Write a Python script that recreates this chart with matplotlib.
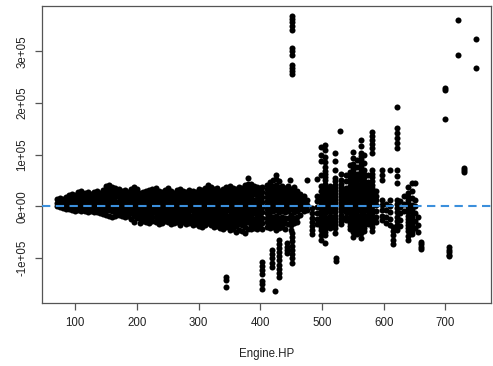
import numpy as np
import matplotlib
matplotlib.use("Agg")
import matplotlib.pyplot as plt

## Residuals vs Engine.HP
## each entry of hp_cols is one vertical column of points, residuals in thousands
hp_cols = [70, 75, 80, 85, 90, 95, 100, 105, 110, 115, 120, 125, 130, 135, 140, 145,
           150, 155, 160, 165, 170, 175, 180, 185, 190, 195, 200, 205, 210, 215, 220,
           225, 230, 235, 240, 245, 250, 255, 260, 265, 270, 275, 280, 285, 290, 295,
           300, 305, 310, 315, 320, 325, 330, 335, 340, 344, 345, 350, 355, 360, 365,
           370, 375, 380, 385, 390, 395, 400, 403, 410, 415, 418, 420, 424, 425, 430,
           435, 440, 443, 445, 448, 450, 452, 455, 460, 465, 470, 475, 483, 491,
           499, 505, 513, 521, 523, 529, 531, 539, 545, 550, 556, 563, 568, 574, 581,
           588, 597, 604, 610, 615, 621, 626, 632, 639, 645, 650, 655, 661,
           700, 706, 720, 730, 750]

resid_cols = [
    [14, 6, 0],
    [16, 9, 2, -2],
    [15, 8, 1, -4],
    [18, 11, 4, -5],
    [22, 14, 6, -2, -6],
    [24, 16, 8, 0, -8],
    [22, 14, 6, -2, -10],
    [28, 20, 12, 4, -4, -8],
    [30, 22, 14, 6, -2, -9],
    [26, 18, 10, 2, -6, -10],
    [27, 19, 11, 3, -5, -11],
    [24, 16, 8, 0, -10],
    [28, 20, 12, 4, -4, -12],
    [30, 22, 14, 6, -2, -12],
    [26, 18, 10, 2, -6, -14],
    [32, 24, 16, 8, 0, -8, -15],
    [40, 32, 24, 16, 8, 0, -8, -16],
    [41, 33, 25, 17, 9, 1, -7, -18],
    [38, 30, 22, 14, 6, -2, -10, -20],
    [35, 27, 19, 11, 3, -5, -12, -18],
    [33, 25, 17, 9, 1, -7, -16],
    [30, 22, 14, 6, -2, -10, -18],
    [32, 24, 16, 8, 0, -8, -14, -20],
    [28, 20, 12, 4, -4, -12, -18],
    [34, 26, 18, 10, 2, -6, -14, -24],
    [38, 30, 22, 14, 6, -2, -10, -18, -30],
    [34, 26, 18, 10, 2, -6, -14, -22],
    [26, 18, 10, 2, -6, -14, -22, -32],
    [28, 20, 12, 4, -4, -12, -20, -28],
    [30, 22, 14, 6, -2, -10, -18, -24, -30],
    [32, 24, 16, 8, 0, -8, -16, -24, -32],
    [34, 26, 18, 10, 2, -6, -14, -20, -28],
    [36, 28, 20, 12, 4, -4, -12, -20, -30],
    [30, 22, 14, 6, -2, -10, -18, -26, -34],
    [28, 20, 12, 4, -4, -12, -20, -26, -32],
    [32, 24, 16, 8, 0, -8, -16, -22, -28],
    [36, 28, 20, 12, 4, -4, -12, -20, -30],
    [30, 22, 14, 6, -2, -10, -18, -26, -34],
    [26, 18, 10, 2, -6, -14, -22, -32],
    [32, 24, 16, 8, 0, -8, -16, -24, -30],
    [34, 26, 18, 10, 2, -6, -14, -22, -30, -36],
    [30, 22, 14, 6, -2, -10, -18, -24, -30],
    [28, 20, 12, 4, -4, -12, -20, -28, -34],
    [32, 24, 16, 8, 0, -8, -16, -24, -32],
    [30, 22, 14, 6, -2, -10, -18, -26, -36],
    [28, 20, 12, 4, -4, -12, -20, -28, -34],
    [34, 26, 18, 10, 2, -6, -14, -22, -30, -38],
    [32, 24, 16, 8, 0, -8, -16, -24, -32, -40],
    [36, 28, 20, 12, 4, -4, -12, -20, -28, -36],
    [42, 34, 26, 18, 10, 2, -6, -14, -22, -32],
    [38, 30, 22, 14, 6, -2, -10, -18, -26, -36],
    [34, 26, 18, 10, 2, -6, -14, -22, -30, -40],
    [36, 28, 20, 12, 4, -4, -12, -20, -28, -38],
    [30, 22, 14, 6, -2, -10, -18, -26, -34, -42],
    [34, 26, 18, 10, 2, -6, -14, -22, -30, -38, -44],
    [-137, -143, -156],
    [38, 30, 22, 14, 6, -2, -10, -18, -26, -34, -40],
    [40, 32, 24, 16, 8, 0, -8, -16, -24, -32, -40, -46],
    [36, 28, 20, 12, 4, -4, -12, -20, -28, -36, -44],
    [34, 26, 18, 10, 2, -6, -14, -22, -30, -38, -50],
    [38, 30, 22, 14, 6, -2, -10, -18, -26, -34, -46],
    [36, 28, 20, 12, 4, -4, -12, -20, -28, -36, -48],
    [42, 34, 26, 18, 10, 2, -6, -14, -22, -30, -40, -52],
    [55, 44, 34, 26, 18, 10, 2, -6, -14, -22, -30, -44],
    [44, 36, 28, 20, 12, 4, -4, -12, -20, -28, -36, -44],
    [40, 32, 24, 12, 4, -4, -14, -24, -34, -42],
    [38, 30, 22, 14, 6, -2, -10, -18, -26, -34, -44],
    [36, 26, 16, 8, 0, -8, -16, -26, -36],
    [38, 28, 18, 8, -2, -12, -22, -32, -44, -108, -116, -123, -131, -145, -151, -160],
    [42, 34, 26, 18, 10, 2, -6, -14, -22, -30, -40],
    [46, 38, 30, 22, 14, 6, -2, -10, -18, -26, -34, -42],
    [-85, -93, -101, -109, -117],
    [50, 40, 30, 20, 10, 0, -10, -20, -30, -40],
    [-165],
    [61, 52, 42, 32, 22, 12, 2, -8, -18, -28, -38, -46],
    [48, 38, 28, 18, 8, -2, -12, -22, -32, -42, -65, -73, -81, -89, -97, -105, -113,
     -121, -129, -137],
    [40, 30, 20, 10, 0, -10, -20, -30, -40],
    [36, 28, 18, 8, -2, -12, -22, -32, -44],
    [-71, -78, -84, -90],
    [40, 30, 20, 10, 0, -10, -22, -34],
    [51],
    [34, 24, 14, 4, -6, -16, -26, -36, -46],
    [369, 362, 356, 349, 342, 306, 300, 293, 273, 267, 262, 256,
     -52, -60, -68, -76, -84, -92, -100, -110],
    [38, 28, 18, 8, -2, -12, -22, -32],
    [30, 20, 10, 0, -10, -20, -30],
    [24, 14, 4, -6, -16],
    [20, 10, 0, -10],
    [51, 12, 2, -8],
    [-4, -14, -22, -30, -38, -46, -54],
    [53, 20, 10, -2, -14, -24, -34],
    [115, 100, 88, 60, 40, 30, 20, 12, 6, 0, -6, -10, -16, -22, -28, -34, -40, -46,
     -56, -65],
    [119, 108, 96, 86, 76, 68, 62, 56, 50, 44, 40, 34, 28, 22, 16, 10, 4, -2, -8,
     -14, -20, -26, -32, -38, -44, -50, -56, -71],
    [40, 34, 28, 22, 18, 12, 6, 0, -6, -12, -18, -24, -30, -36, -42],
    [103, 88, 70, 55, 48, 42, 36, 30, 24, 18, 12, 6, 0, -6, -12, -18, -24, -30, -36,
     -42, -52],
    [-100, -106],
    [145],
    [62, 50, 44, 38, 32, 26, 20, 14, 8, 2, -4, -10, -16, -22, -28, -34],
    [61, 48, 36, 30, 24, 18, 12, 6, 0, -6, -12, -20, -27],
    [80, 66, 58, 52, 46, 40, 34, 28, 22, 16, 10, 4, -2, -8, -14, -20, -26, -32, -38,
     -44],
    [105, 94, 82, 76, 70, 64, 58, 52, 46, 40, 34, 28, 22, 16, 10, 4, -2, -8, -14,
     -20, -26, -32, -38, -44, -50, -59],
    [90, 76, 62, 56, 50, 44, 36, 30, 22, 16, 10, 4, -4, -10, -18, -24, -30, -36, -42,
     -48, -54],
    [128, 116, 104, 98, 92, 86, 80, 74, 68, 62, 56, 50, 44, 38, 32, 26, 20, 14, 8, 2,
     -4, -10, -16, -22, -28, -34, -40, -46, -52, -62],
    [100, 84, 70, 62, 56, 48, 42, 36, 30, 24, 16, 10, 4, -4, -10, -18, -24, -30,
     -36, -42, -48],
    [60, 46, 38, 30, 24, 18, 10, 4, -4, -10, -16, -22, -28, -34],
    [144, 136, 128, 120, 112, 104, 70, 62, 56, 48, 42, 36, 30, 24, 18, 12, 6, 0, -7,
     -14, -20, -27, -34, -41, -48],
    [30, 20, 12, 2, -10, -20, -30],
    [70, 60, 50, 12, 2, -8, -18, -27],
    [4, -8, -20, -32],
    [70, 12, 0, -12, -24, -36],
    [-40, -48, -56, -66, -74],
    [193, 152, 142, 132, 122, 112, 70, 58, 45, 12, 4, -4, -12, -20, -28, -36, -46],
    [10, -2, -14, -26, -38],
    [20, 4, -10],
    [38, 26, 18, 12, 6, 0, -6, -12, -18, -24, -30, -36, -42, -48, -58, -65],
    [45, 30, 16, 2, -6, -12, -20, -26, -34, -40, -48, -54],
    [45, 12, 0, -14, -28, -42],
    [-20, -36, -50],
    [-69, -74, -78, -82],
    [229, 225, 169],
    [-79, -84, -89, -94, -97],
    [361, 293],
    [74, 70, 67],
    [324, 267],
]

x_ticks = [100, 200, 300, 400, 500, 600, 700]
y_ticks = [-1e5, 0, 1e5, 2e5, 3e5]
y_tick_labels = ["-1e+05", "0e+00", "1e+05", "2e+05", "3e+05"]

## flatten the columns into point arrays
hp = np.concatenate([np.full(len(r), h) for h, r in zip(hp_cols, resid_cols)])
resid = np.concatenate([np.array(r, dtype=float) * 1e3 for r in resid_cols])

plt.rcParams['font.family'] = ['Liberation Sans', 'DejaVu Sans']
fig = plt.figure(figsize=(4.93, 3.66), dpi=100)
ax = fig.add_axes([0.0852, 0.172, 0.911, 0.812])

ax.scatter(hp, resid, s=19, c='black', linewidths=0, zorder=2)
ax.axhline(0, color='#3b8fdc', lw=1.5, ls=(0, (4, 2.6)), zorder=3)

ax.set_xlim(46, 774)
ax.set_ylim(-1.874e5, 3.88e5)

ax.set_xticks(x_ticks)
ax.set_xticklabels([str(t) for t in x_ticks])
ax.set_yticks(y_ticks)
ax.set_yticklabels(y_tick_labels, rotation=90, va='center')

for sp in ax.spines.values():                 ## R style box
    sp.set_color('#555555')
    sp.set_linewidth(0.9)
ax.tick_params(direction='out', length=5, width=0.9, color='#555555',
               labelsize=8.3, labelcolor='#222222', pad=5)

ax.set_xlabel("Engine.HP", fontsize=8.3, color='#222222', labelpad=14)

plt.savefig("out.png", dpi=100)
